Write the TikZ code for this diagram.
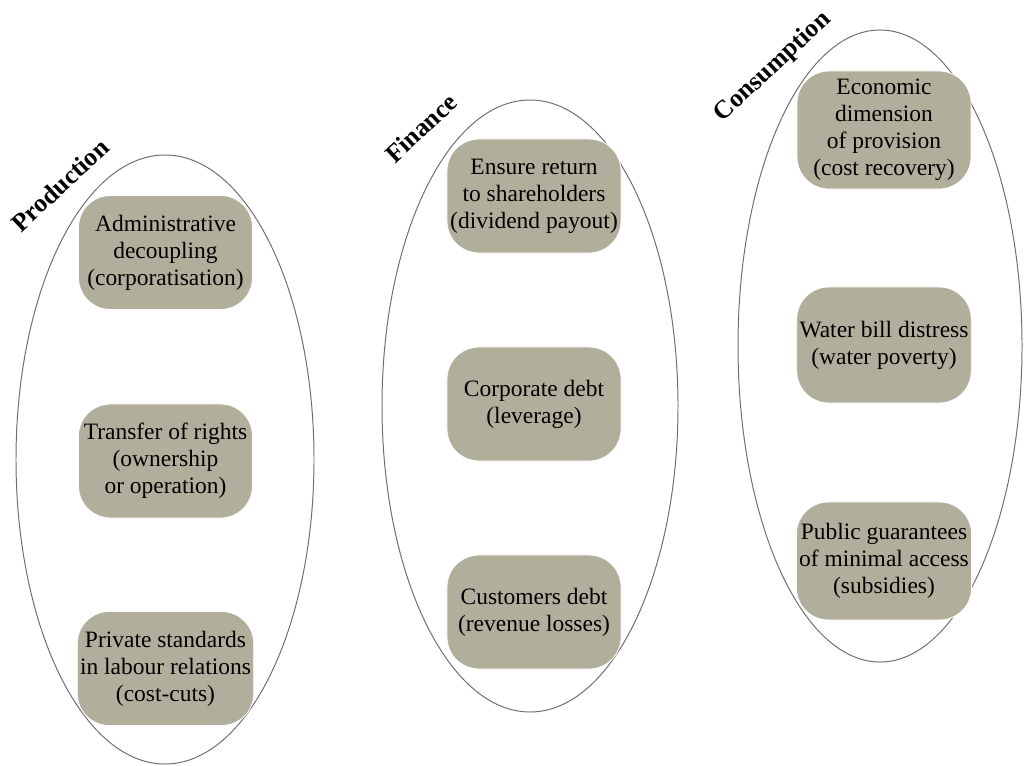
\documentclass[tikz,border=0pt]{standalone}
\usepackage{fontspec}
\setmainfont{Liberation Serif}
\usetikzlibrary{positioning}

\definecolor{boxfill}{RGB}{177,175,155}
\definecolor{ringline}{RGB}{110,110,110}

\tikzset{
    item/.style={rectangle, rounded corners=0.8cm, fill=boxfill, draw=white,
        line width=0.6pt, minimum width=4.35cm, minimum height=2.85cm,
        align=center, inner sep=2pt,
        font=\fontsize{16.7pt}{19.2pt}\selectfont},
    ring/.style={draw=ringline, line width=0.7pt},
    sphere/.style={rotate=43, font=\fontsize{18.3pt}{21pt}\selectfont\bfseries}
}

\begin{document}
\begin{tikzpicture}[x=0.025cm, y=-0.025cm]

    \useasboundingbox (0,0) rectangle (1024,765);

    % ── Ellipses (one per sphere) ─────────────────────────────────────────────
    \draw[ring] (165,459.5) ellipse [x radius=149, y radius=304.5];
    \draw[ring] (530,406)   ellipse [x radius=148, y radius=306];
    \draw[ring] (880,346)   ellipse [x radius=142, y radius=316];

    % ── Sphere titles ─────────────────────────────────────────────────────────
    \node[sphere] (prodT) at (60,185)  {Production};
    \node[sphere] (finT)  at (421,128) {Finance};
    \node[sphere] (consT) at (773,67)  {Consumption};

    % ── Production ────────────────────────────────────────────────────────────
    \node[item] (prodA) at (165.5,252.5) {Administrative\\decoupling\\(corporatisation)};
    \node[item] (prodB) at (165.5,461)   {Transfer of rights\\(ownership\\or operation)};
    \node[item] (prodC) at (165.5,668.5) {Private standards\\in labour relations\\(cost-cuts)};

    % ── Finance ───────────────────────────────────────────────────────────────
    \node[item] (finA) at (534,196) {Ensure return\\to shareholders\\(dividend payout)};
    \node[item] (finB) at (534,404) {Corporate debt\\(leverage)};
    \node[item] (finC) at (534,612) {Customers debt\\(revenue losses)};

    % ── Consumption ───────────────────────────────────────────────────────────
    \node[item, minimum height=2.95cm] (consA) at (884,130)
        {Economic\\dimension\\of provision\\(cost recovery)};
    \node[item, minimum height=2.9cm] (consB) at (884,345)
        {Water bill distress\\(water poverty)};
    \node[item, minimum height=2.95cm] (consC) at (884,561)
        {Public guarantees\\of minimal access\\(subsidies)};

\end{tikzpicture}
\end{document}
